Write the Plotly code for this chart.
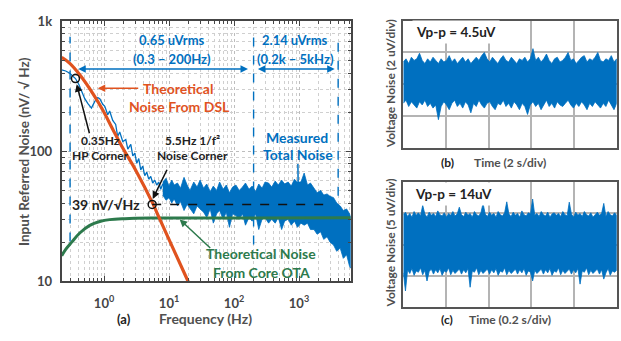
import numpy as np
import plotly.graph_objects as go

# ---------------- (a) noise spectrum ----------------
# measured noise, low-frequency part (Hz, nV/rtHz)
f_lf = [0.223, 0.257, 0.297, 0.33, 0.363, 0.408, 0.454, 0.505, 0.561, 0.64,
        0.72, 0.8, 0.859, 0.955, 1.026, 1.14, 1.22, 1.36, 1.51, 1.62,
        1.74, 1.94, 2.16, 2.32, 2.58, 2.77, 2.97, 3.19, 3.42, 3.67,
        3.94, 4.23, 4.54, 4.87, 5.23, 5.61, 6.03, 6.47, 6.94, 7.45, 8.0]
v_lf = [423, 415, 399, 382, 363, 328, 287, 254, 234, 215,
        242, 259, 254, 230, 222, 191, 204, 173, 161, 130,
        141, 119, 123, 104, 113, 92, 97, 81, 88, 72,
        77, 65, 69, 61, 64, 57, 60, 55, 58, 51, 56]

# measured noise, white region: upper / lower envelope of the trace
f_band = [8, 9, 10, 11, 12, 13.5, 15, 17, 19, 21, 24, 27, 30, 34, 38, 43, 48, 54, 60, 68,
          76, 85, 95, 107, 120, 135, 150, 170, 190, 215, 240, 270, 300, 340, 380, 430, 480, 540, 600, 680,
          760, 850, 950, 1070, 1200, 1350, 1500, 1700, 1900, 2150, 2400, 2700, 3000, 3400, 3800, 4300, 4800, 5400, 6000, 6240]
v_band_hi = [58, 62, 54, 60, 55,
             57, 52, 63, 55, 50, 58, 53, 60,
             52, 56, 49, 54, 50, 58, 51, 55, 48, 53,
             55, 50, 53, 57, 51, 54, 49, 56, 52, 58,
             57, 53, 59, 55, 60, 56, 58, 54, 61, 57,
             58, 68, 55, 57,
             52, 48, 50, 46, 47, 45,
             44, 40, 38, 35, 36, 33, 31]
v_band_lo = [46, 42, 44, 40, 43,
             38, 41, 35, 39, 36, 33, 38, 36,
             34, 31, 36, 28, 33, 35, 30, 34, 26, 33,
             32, 30, 33, 27, 31, 29, 33, 25, 30, 31,
             28, 30, 28, 31, 25, 29, 30, 27, 29, 26,
             28, 27, 28, 25,
             25, 23, 24, 21, 22, 20,
             19, 17, 18, 15, 16, 13, 12.6]

# theoretical noise from DSL
f_dsl = [0.223, 0.297, 0.423, 0.677, 0.955, 1.36, 1.94, 3.07, 5.71, 6.70, 19.6, 25]
v_dsl = [528, 475, 388, 277, 208, 148, 106, 71.6, 39, 32.6, 10, 7.7]

# theoretical noise from core OTA
f_ota = [0.223, 0.257, 0.318, 0.423, 0.603, 0.859, 1.22, 2.08, 5.0, 6240]
v_ota = [15.7, 17.6, 20, 23.5, 26.9, 28.8, 29.8, 30.3, 30.6, 30.8]

# integration band edges (Hz) and their drawn extent (nV/rtHz)
edge_f = [0.3, 200, 4000]
edge_top = [760, 760, 760]
edge_bot = [20.2, 19.2, 33]

# corners
corner_f = [0.363, 5.5]
corner_v = [363, 39]
floor_f = [5.5, 2450]
floor_v = [39, 39]

# ---------------- (b) time-domain noise, 2 uV/div, 2 s/div ----------------
ub = [1.4, 1.6, 1.3, 1.7, 1.5, 1.6, 1.95, 1.5, 1.3, 1.6,
      1.4, 1.7, 1.5, 1.3, 1.6, 1.4, 1.5, 1.8, 1.4, 1.6,
      1.3, 1.5, 1.7, 1.4, 1.6, 1.3, 1.5, 1.7, 1.5, 1.8,
      2.0, 1.6, 1.4, 1.7, 1.5, 1.3, 1.6, 1.8, 1.5, 1.4,
      1.7, 1.5, 1.3, 1.6, 1.5, 1.7, 1.4, 1.6, 2.24, 1.5,
      1.7, 1.4, 1.6, 1.9, 1.5, 1.3, 1.6, 1.7, 1.4, 1.5,
      1.7, 2.0, 1.5, 1.6, 1.3, 1.5, 1.7, 1.8, 1.4, 1.6,
      1.5, 1.7, 2.0, 1.5, 1.4, 1.6, 1.5, 1.8, 1.4, 1.6]
lb = [-1.2, -1.0, -1.4, -1.1, -1.3, -1.5, -1.1, -1.3, -1.0, -1.4,
      -1.2, -1.5, -1.3, -2.23, -1.4, -1.1, -1.3, -1.6, -1.2, -1.0,
      -1.4, -1.2, -1.5, -1.1, -1.3, -1.8, -1.2, -1.4, -1.0, -1.3,
      -1.5, -1.2, -1.1, -1.4, -1.6, -1.2, -1.3, -1.0, -1.4, -1.2,
      -1.5, -1.1, -1.3, -1.6, -1.2, -1.4, -1.9, -1.3, -1.1, -1.4,
      -1.2, -1.6, -1.3, -1.0, -1.4, -1.2, -1.5, -1.1, -1.3, -1.4,
      -1.2, -1.0, -1.3, -1.5, -1.2, -1.4, -1.1, -1.3, -1.6, -1.2,
      -1.4, -1.1, -1.3, -1.5, -1.2, -1.4, -1.0, -1.3, -1.6, -1.2]

# ---------------- (c) time-domain noise, 5 uV/div, 0.2 s/div ----------------
uc = [4.8, 5.2, 4.5, 5.0, 4.4, 5.3, 4.7, 5.1, 4.6, 6.3,
      4.9, 4.4, 5.2, 4.7, 5.0, 4.5, 5.4, 4.8, 4.6, 5.1,
      4.4, 5.0, 4.7, 5.3, 4.6, 4.9, 6.0, 4.8, 4.5, 5.2,
      4.7, 5.0, 4.4, 5.3, 4.8, 4.6, 5.1, 6.6, 4.9, 4.5,
      5.2, 4.7, 5.0, 4.4, 5.3, 4.8, 4.6, 5.1, 6.85, 4.9,
      4.5, 5.2, 4.7, 5.0, 4.4, 5.4, 4.8, 4.6, 5.1, 4.9,
      7.3, 4.7, 5.0, 4.5, 5.3, 4.8, 4.6, 5.2, 4.4, 4.9,
      5.1, 4.7, 5.0, 4.5, 5.3, 4.8, 4.6, 6.8, 4.9, 4.4,
      5.2, 4.7, 5.0, 4.5, 5.3, 4.8, 4.6, 5.1, 4.4, 4.9,
      5.2, 4.7, 5.0, 6.6, 4.5, 5.3, 4.8, 4.6, 5.1, 4.7]
lc = [-4.5, -7.4, -4.0, -4.6, -3.8, -4.9, -4.2, -4.4, -3.7, -4.8,
      -4.1, -5.8, -4.3, -3.9, -4.7, -4.0, -4.5, -3.8, -4.9, -4.2,
      -4.4, -3.7, -4.8, -4.1, -4.6, -4.3, -3.9, -4.7, -4.0, -4.5,
      -3.8, -6.8, -4.2, -4.4, -3.7, -4.8, -4.1, -4.6, -4.3, -3.9,
      -4.7, -4.0, -4.5, -3.8, -4.9, -4.2, -4.4, -3.7, -4.8, -4.1,
      -4.6, -4.3, -3.9, -4.7, -4.0, -4.5, -3.8, -4.9, -4.2, -4.4,
      -5.8, -4.1, -4.6, -4.3, -3.9, -4.7, -4.0, -4.5, -3.8, -4.9,
      -4.2, -4.4, -3.7, -4.8, -4.1, -4.6, -4.3, -3.9, -4.7, -4.0,
      -4.5, -3.8, -6.3, -4.2, -4.4, -3.7, -4.8, -4.1, -4.6, -4.3,
      -3.9, -4.7, -4.0, -5.5, -4.5, -3.8, -4.9, -4.2, -4.4, -4.1]

BLUE = "#0070C0"
RED = "#E0531F"
GREEN = "#2D7A4C"
AX = "#454545"
TXT = "#505050"
FONT = "Lato"
W, H = 621, 341

def X(px):
    return px / W

def Y(py):
    return 1 - py / H

fig = go.Figure()

# ---- (a) traces ----
fig.add_trace(go.Scatter(x=f_band + f_band[::-1], y=v_band_hi + v_band_lo[::-1],
                         fill="toself", fillcolor=BLUE, mode="lines",
                         line=dict(color=BLUE, width=0.8), xaxis="x", yaxis="y"))
fig.add_trace(go.Scatter(x=f_lf, y=v_lf, mode="lines", line=dict(color=BLUE, width=1.3),
                         xaxis="x", yaxis="y"))
for f0, top, bot in zip(edge_f, edge_top, edge_bot):
    fig.add_trace(go.Scatter(x=[f0, f0], y=[bot, top], mode="lines",
                             line=dict(color=BLUE, width=1.4, dash="dash"), xaxis="x", yaxis="y"))
fig.add_trace(go.Scatter(x=f_ota, y=v_ota, mode="lines", line=dict(color=GREEN, width=3, shape="spline"),
                         xaxis="x", yaxis="y"))
fig.add_trace(go.Scatter(x=f_dsl, y=v_dsl, mode="lines", line=dict(color=RED, width=3.2, shape="spline"),
                         xaxis="x", yaxis="y"))
fig.add_trace(go.Scatter(x=floor_f, y=floor_v, mode="lines", line=dict(color="#111", width=1.6, dash="dash"),
                         xaxis="x", yaxis="y"))
fig.add_trace(go.Scatter(x=corner_f, y=corner_v, mode="markers",
                         marker=dict(symbol="circle-open", size=8, color="#111", line=dict(width=1.5)),
                         xaxis="x", yaxis="y"))

# ---- (b) / (c) traces ----
tb = list(np.linspace(0, 10, len(ub)))
fig.add_trace(go.Scatter(x=tb + tb[::-1], y=ub + lb[::-1], fill="toself", fillcolor=BLUE,
                         mode="lines", line=dict(color=BLUE, width=0.8), xaxis="x2", yaxis="y2"))
tc = list(np.linspace(0, 10, len(uc)))
fig.add_trace(go.Scatter(x=tc + tc[::-1], y=uc + lc[::-1], fill="toself", fillcolor=BLUE,
                         mode="lines", line=dict(color=BLUE, width=0.8), xaxis="x3", yaxis="y3"))

tickfont = dict(family=FONT, size=13, color=AX, weight="bold")
logaxis = dict(type="log", showline=True, linecolor=AX, linewidth=2, mirror="allticks",
               ticks="inside", ticklen=5, tickwidth=1.2, tickcolor=AX,
               showgrid=True, gridcolor="#bdbdbd", griddash="dot", gridwidth=1,
               zeroline=False, tickfont=tickfont,
               minor=dict(dtick="D1", showgrid=True, gridcolor="#cfcfcf", griddash="dot",
                          ticks="inside", ticklen=3, tickcolor=AX))
fig.update_layout(
    width=W, height=H, margin=dict(l=0, r=0, t=0, b=0),
    paper_bgcolor="white", plot_bgcolor="white", showlegend=False,
    font=dict(family=FONT, color=TXT),
    xaxis=dict(logaxis, domain=[X(61.7), X(350.7)], range=[np.log10(0.223), np.log10(6240)],
               tickvals=[1, 10, 100, 1000],
               ticktext=["10<sup>0</sup>", "10<sup>1</sup>", "10<sup>2</sup>", "10<sup>3</sup>"],
               ticklabelstandoff=9, anchor="y"),
    yaxis=dict(logaxis, domain=[Y(286.7), Y(14)], range=[1, 3],
               tickvals=[10, 100, 1000], ticktext=["10", "100", "1k"],
               ticklabelstandoff=5, anchor="x"),
)
timeax = dict(showline=True, linecolor="#555", linewidth=2, mirror=True, ticks="",
              showticklabels=False, showgrid=True, gridcolor="#b4b4b4", gridwidth=2, zeroline=False)
fig.update_layout(
    xaxis2=dict(timeax, domain=[X(403.3), X(616.7)], range=[0, 10], dtick=2, anchor="y2"),
    yaxis2=dict(timeax, domain=[Y(146.7), Y(13.3)], range=[-4, 4], dtick=2, anchor="x2"),
    xaxis3=dict(timeax, domain=[X(403.3), X(616.7)], range=[0, 10], dtick=2, anchor="y3"),
    yaxis3=dict(timeax, domain=[Y(314), Y(182.7)], range=[-10, 10], dtick=5, anchor="x3"),
)

ann = []

def text(px, py, s, size, color, bold=True, angle=0, xanchor="center", bg=None):
    d = dict(x=X(px), y=Y(py), xref="paper", yref="paper", text=s, showarrow=False,
             xanchor=xanchor, yanchor="middle", textangle=angle,
             font=dict(family=FONT, size=size, color=color, weight="bold" if bold else "normal"))
    if bg:
        d.update(bgcolor=bg, borderpad=3)
    ann.append(d)

def arrow(f_tip, v_tip, f_tail, v_tail, color, both=False):
    ann.append(dict(x=np.log10(f_tip), y=np.log10(v_tip), ax=np.log10(f_tail), ay=np.log10(v_tail),
                    xref="x", yref="y", axref="x", ayref="y", text="", showarrow=True,
                    arrowhead=2, arrowsize=1, arrowwidth=1.5, arrowcolor=color,
                    arrowside="end+start" if both else "end", standoff=0, startstandoff=0))

# axis titles
text(24, 151, "Input Referred Noise (nV/ √ Hz)", 13.5, TXT, angle=-90)
text(124, 326, "(a)", 13, "#222")
text(206, 326, "Frequency (Hz)", 14, TXT)

# annotations inside (a)
text(172, 34, "0.65 uVrms", 13, BLUE)
text(172, 53, "(0.3 – 200Hz)", 13, BLUE)
text(295, 34, "2.14 uVrms", 13, BLUE)
text(295, 53, "(0.2k – 5kHz)", 13, BLUE)
arrow(164, 430, 0.38, 430, BLUE, both=True)
arrow(3540, 430, 221, 430, BLUE, both=True)
text(178, 84, "Theoretical", 14, RED)
text(179, 103, "Noise From DSL", 14, RED)
arrow(0.8, 306, 3.54, 306, RED)
text(100, 139, "0.35Hz", 12, "#222")
text(100, 155, "HP Corner", 12, "#222")
arrow(0.38, 328, 0.603, 134, "#111")
text(192, 139, "5.5Hz 1/f²", 12, "#222")
text(192, 155, "Noise Corner", 12, "#222")
arrow(5.61, 43, 9.55, 74, "#111")
text(142, 206, "39 nV/√Hz", 14, "#222", xanchor="right")
text(297, 136, "Measured", 14, BLUE)
text(298, 154, "Total Noise", 14, BLUE)
arrow(972, 51, 960, 82, BLUE)
text(261, 258, "Theoretical Noise", 14, GREEN)
text(261, 277, "From Core OTA", 14, GREEN)
arrow(14.6, 29.9, 45.4, 17.6, GREEN)

# (b) and (c) labels
text(390, 80, "Voltage Noise (2 uV/div)", 12, TXT, angle=-90)
text(447, 162, "(b)", 12, "#222")
text(510, 162, "Time (2 s/div)", 12, TXT)
text(456, 25, "Vp-p = 4.5uV", 13.5, "#222", bg="white")
text(390, 247, "Voltage Noise (5 uV/div)", 12, TXT, angle=-90)
text(447, 327, "(c)", 12, "#222")
text(510, 327, "Time (0.2 s/div)", 12, TXT)
text(453, 195, "Vp-p = 14uV", 13.5, "#222", bg="white")

fig.update_layout(annotations=ann)
fig.write_html("out.html")
